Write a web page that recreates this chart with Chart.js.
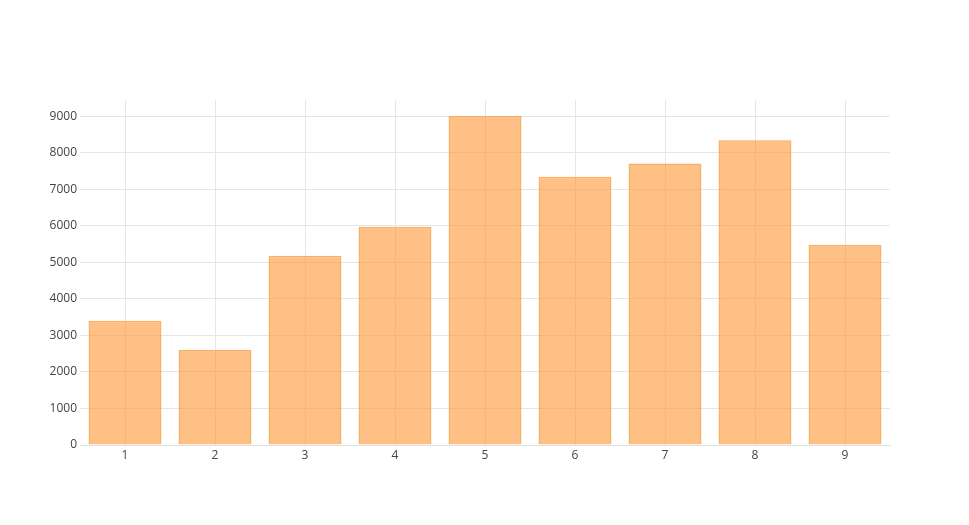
<!DOCTYPE html>
<html>
<head>
<meta charset="utf-8">
<script src="https://cdn.jsdelivr.net/npm/chart.js@4/dist/chart.umd.min.js"></script>
<style>
  html, body { margin: 0; padding: 0; background: #fff; }
  #wrap { width: 969px; height: 525px; }
</style>
</head>
<body>
<div id="wrap"><canvas id="chart" width="969" height="525"></canvas></div>
<script>
var categories = ["1", "2", "3", "4", "5", "6", "7", "8", "9"];
var values = [3400, 2600, 5180, 5970, 9000, 7340, 7700, 8340, 5480];
var yTicks = [0, 1000, 2000, 3000, 4000, 5000, 6000, 7000, 8000, 9000];

Chart.defaults.font.family = "'Open Sans', verdana, arial, sans-serif";
Chart.defaults.font.size = 12;
Chart.defaults.color = "#444";

var ctx = document.getElementById("chart").getContext("2d");

var chart = new Chart(ctx, {
  type: "bar",
  data: {
    labels: categories,
    datasets: [
      {
        data: values,
        backgroundColor: "rgba(253, 150, 50, 0.6)",
        borderColor: "rgba(245, 150, 50, 0.75)",
        borderWidth: 1.5,
        barPercentage: 0.81,
        categoryPercentage: 1,
      },
    ],
  },
  options: {
    responsive: false,
    animation: false,
    layout: { padding: { left: 0, top: 100, right: 79, bottom: 55 } },
    plugins: { legend: { display: false }, tooltip: { enabled: false } },
    scales: {
      x: {
        offset: true,
        grid: { offset: false, color: "#e6e6e6", drawTicks: false },
        border: { color: "#e0e0e0", width: 1 },
        ticks: { padding: 3 },
        afterFit: (scale) => { scale.height = 25; },
      },
      y: {
        min: 0,
        max: 9440,
        grid: { color: "#e6e6e6", drawTicks: false },
        border: { display: false },
        ticks: { padding: 3, autoSkip: false, callback: (v) => String(v) },
        // use the fixed tick list instead of the generated one
        afterBuildTicks: (scale) => {
          scale.ticks = yTicks.map((v) => ({ value: v }));
        },
        afterFit: (scale) => { scale.width = 80; },
      },
    },
  },
});
</script>
</body>
</html>
